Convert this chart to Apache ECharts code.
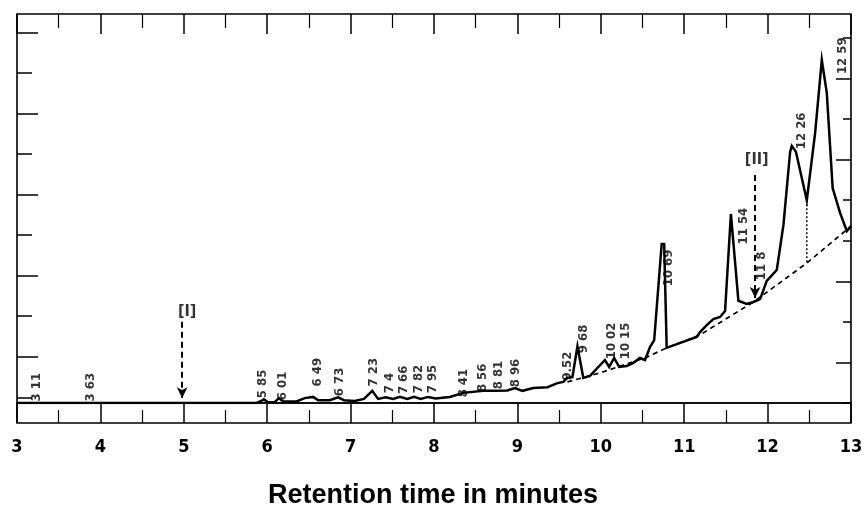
<!DOCTYPE html>
<html>
<head>
<meta charset="utf-8">
<script src="https://cdn.jsdelivr.net/npm/echarts@6/dist/echarts.min.js"></script>
<style>
html,body{margin:0;padding:0;background:#fff;}
#chart{width:866px;height:505px;}
</style>
</head>
<body>
<div id="chart"></div>
<script>
// Retention time (minutes) and detector signal (chart divisions) of the trace
var traceTime = [3.00,5.87,5.93,5.96,6.01,6.09,6.14,6.19,6.35,6.45,6.55,6.61,6.75,6.85,6.92,7.05,7.16,7.26,7.33,7.42,7.51,7.59,7.68,7.76,7.84,7.93,8.02,8.19,8.35,8.59,8.76,8.88,8.97,9.06,9.19,9.36,9.48,9.55,9.60,9.66,9.72,9.79,9.87,10.05,10.10,10.16,10.22,10.31,10.39,10.47,10.53,10.59,10.64,10.73,10.76,10.79,11.15,11.19,11.27,11.35,11.43,11.49,11.56,11.65,11.75,11.83,11.91,11.99,12.11,12.19,12.27,12.29,12.34,12.47,12.57,12.65,12.71,12.78,12.87,12.95,13.00];
var traceSignal = [0,0,0.05,0.09,0.02,0.02,0.12,0.04,0.04,0.12,0.15,0.07,0.07,0.14,0.07,0.05,0.10,0.30,0.10,0.14,0.10,0.15,0.10,0.15,0.10,0.15,0.11,0.15,0.25,0.30,0.30,0.31,0.37,0.30,0.37,0.39,0.49,0.52,0.62,0.64,1.40,0.62,0.67,1.06,0.89,1.11,0.89,0.91,0.99,1.11,1.06,1.38,1.55,3.92,3.92,1.36,1.63,1.75,1.92,2.07,2.12,2.27,4.66,2.52,2.44,2.49,2.56,3.01,3.28,4.39,6.19,6.34,6.19,5.00,6.66,8.46,7.64,5.30,4.68,4.24,4.36];

// Skimmed (dashed) baseline
var baseTime = [9.60,9.99,10.55,10.79,11.19,11.83,12.47,13.00];
var baseSignal = [0.52,0.74,1.13,1.36,1.68,2.49,3.45,4.36];

// Drop line between 12.26 and 12.59
var dropTime = [12.47,12.47];
var dropSignal = [5.00,3.45];

// Peak annotations (retention time printed by the integrator)
var peakTexts = ["3 11","3 63","5 85","6 01","6 49","6 73","7 23","7 4","7 66","7 82","7 95","8 41","8 56","8 81","8 96","9.52","9 68","10 02","10 15","10 69","11 54","11 8","12 26","12 59"];
var peakTextTime = [3.23,3.88,5.95,6.18,6.60,6.87,7.28,7.47,7.64,7.81,7.98,8.35,8.58,8.78,8.98,9.60,9.80,10.13,10.30,10.81,11.71,11.93,12.41,12.90];
var peakTextSignal = [0.39,0.39,0.47,0.42,0.76,0.52,0.76,0.49,0.57,0.59,0.59,0.49,0.62,0.69,0.74,0.91,1.58,1.53,1.53,3.33,4.36,3.38,6.71,8.56];

// Marker arrows [I] and [II]
var markerTexts = ["[I]","[II]"];
var markerTime = [4.98,11.85];
var markerFrom = [2.00,5.62];
var markerTo = [0.12,2.59];
var markerTextTime = [5.04,11.87];
var markerTextSignal = [2.24,5.99];

// Axis ticks
var xTickLabels = ["3","4","5","6","7","8","9","10","11","12","13"];
var rightShortTicks = [0,2,4,5,7,9];
var rightLongTicks = [1,3,6,8];
var leftShortTicks = [0.14,2.14,4.14,6.14,8.14];
var leftLongTicks = [1.14,3.14,5.14,7.14,9.14];

var ink = '#000';
var condensed = "'DejaVu Sans Condensed','Liberation Sans Narrow',sans-serif";

function pairs(a, b) { return a.map(function (v, i) { return [v, b[i]]; }); }

var chart = echarts.init(document.getElementById('chart'), null, {renderer: 'canvas'});

var yMax = 9.59;
function tickAxis(pos, vals, len) {
  return {
    type: 'value', gridIndex: 0, position: pos, min: 0, max: yMax,
    axisLine: {show: false, onZero: false}, splitLine: {show: false}, axisLabel: {show: false},
    axisTick: {show: true, inside: true, length: len, customValues: vals, lineStyle: {color: ink, width: 1.5}}
  };
}

var option = {
  animation: false,
  backgroundColor: '#fff',
  title: {
    text: 'Retention time in minutes', left: 'center', top: 477,
    textStyle: {fontFamily: "'Liberation Sans',Arial,sans-serif", fontWeight: 'bold', fontSize: 27, color: ink}
  },
  grid: [
    {left: 17, right: 15, top: 14, bottom: 102, show: true, borderColor: ink, borderWidth: 1.6, backgroundColor: 'transparent'},
    {left: 17, right: 15, top: 403, bottom: 82, show: true, borderColor: ink, borderWidth: 1.6, backgroundColor: 'transparent'}
  ],
  xAxis: [
    {
      type: 'value', gridIndex: 0, position: 'top', min: 3, max: 13, interval: 1,
      axisLine: {show: false, onZero: false}, splitLine: {show: false}, axisLabel: {show: false},
      axisTick: {show: true, inside: true, length: 20, lineStyle: {color: ink, width: 1.5}},
      minorTick: {show: true, splitNumber: 2, length: 14, lineStyle: {color: ink, width: 1.2}}
    },
    {
      type: 'value', gridIndex: 1, position: 'bottom', min: 3, max: 13, interval: 1,
      axisLine: {show: false, onZero: false}, splitLine: {show: false},
      axisTick: {show: true, inside: true, length: 19, lineStyle: {color: ink, width: 1.5}},
      minorTick: {show: true, splitNumber: 2, length: 13, lineStyle: {color: ink, width: 1.2}},
      axisLabel: {
        show: true, margin: 15, color: ink, fontFamily: condensed, fontWeight: 'bold', fontSize: 18,
        formatter: function (v) { var i = Math.round(v - 3); return xTickLabels[i] !== undefined ? xTickLabels[i] : ''; }
      }
    }
  ],
  yAxis: [
    tickAxis('right', rightShortTicks, 8),
    tickAxis('right', rightLongTicks, 15),
    tickAxis('left', leftShortTicks, 15),
    tickAxis('left', leftLongTicks, 21),
    {type: 'value', gridIndex: 1, min: 0, max: 1, show: false}
  ],
  series: [
    {
      name: 'baseline', type: 'line', xAxisIndex: 0, yAxisIndex: 0,
      data: pairs(baseTime, baseSignal), symbol: 'none', silent: true,
      lineStyle: {color: ink, width: 1.7, type: [5, 4]}, z: 2
    },
    {
      name: 'drop', type: 'line', xAxisIndex: 0, yAxisIndex: 0,
      data: pairs(dropTime, dropSignal), symbol: 'none', silent: true,
      lineStyle: {color: ink, width: 1.4, type: [2, 2]}, z: 2
    },
    {
      name: 'trace', type: 'line', xAxisIndex: 0, yAxisIndex: 0,
      data: pairs(traceTime, traceSignal), symbol: 'none', silent: true,
      lineStyle: {color: ink, width: 2.5, join: 'miter'}, z: 3
    },
    {
      name: 'markers', type: 'line', xAxisIndex: 0, yAxisIndex: 0, data: [],
      markLine: {
        silent: true, symbol: ['none', 'arrow'], symbolSize: [8, 11],
        label: {show: false},
        lineStyle: {color: ink, width: 2, type: [6, 4]},
        data: markerTime.map(function (t, i) {
          return [{coord: [t, markerFrom[i]]}, {coord: [t, markerTo[i]]}];
        })
      }
    },
    {
      name: 'peakLabels', type: 'scatter', xAxisIndex: 0, yAxisIndex: 0,
      data: peakTextTime.map(function (t, i) { return {value: [t, peakTextSignal[i]], name: peakTexts[i]}; }),
      symbolSize: 1, itemStyle: {color: 'rgba(0,0,0,0)'}, silent: true, z: 5,
      label: {
        show: true, position: 'inside', rotate: 90, formatter: '{b}',
        color: ink, fontFamily: condensed, fontWeight: 'bold', fontSize: 13
      }
    },
    {
      name: 'markerLabels', type: 'scatter', xAxisIndex: 0, yAxisIndex: 0,
      data: markerTextTime.map(function (t, i) { return {value: [t, markerTextSignal[i]], name: markerTexts[i]}; }),
      symbolSize: 1, itemStyle: {color: 'rgba(0,0,0,0)'}, silent: true, z: 5,
      label: {
        show: true, position: 'inside', formatter: '{b}',
        color: ink, fontFamily: condensed, fontWeight: 'bold', fontSize: 16
      }
    }
  ]
};

chart.setOption(option);
</script>
</body>
</html>
